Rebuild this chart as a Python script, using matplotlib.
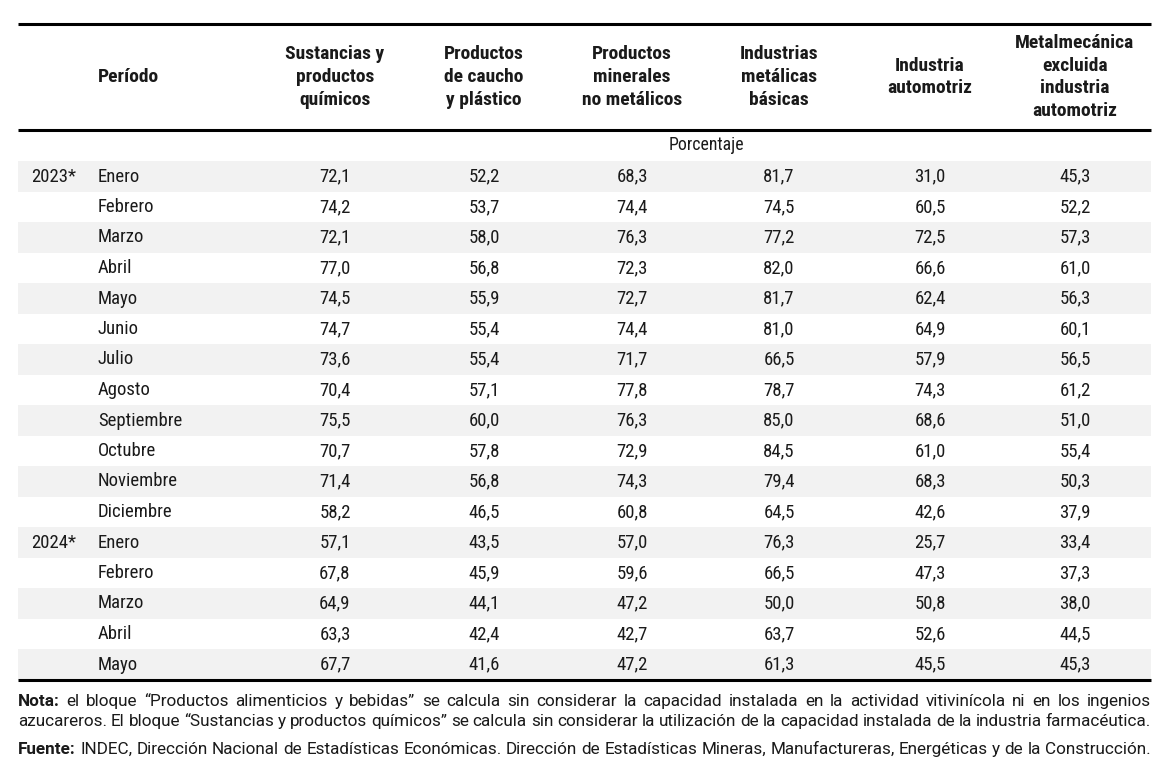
import matplotlib
matplotlib.use("Agg")
import matplotlib.pyplot as plt
from matplotlib.patches import Rectangle

plt.rcParams['font.family'] = ['Roboto Condensed', 'Liberation Sans Narrow', 'Roboto', 'DejaVu Sans']

# header texts of the table
col_headers = [
    "Sustancias y\nproductos\nquímicos",
    "Productos\nde caucho\ny plástico",
    "Productos\nminerales\nno metálicos",
    "Industrias\nmetálicas\nbásicas",
    "Industria\nautomotriz",
    "Metalmecánica\nexcluida\nindustria\nautomotriz",
]
years = ["2023*", "", "", "", "", "", "", "", "", "", "", "", "2024*", "", "", "", ""]
months = ["Enero", "Febrero", "Marzo", "Abril", "Mayo", "Junio", "Julio", "Agosto",
          "Septiembre", "Octubre", "Noviembre", "Diciembre",
          "Enero", "Febrero", "Marzo", "Abril", "Mayo"]

quimicos = [72.1, 74.2, 72.1, 77.0, 74.5, 74.7, 73.6, 70.4, 75.5, 70.7, 71.4, 58.2,
            57.1, 67.8, 64.9, 63.3, 67.7]
caucho = [52.2, 53.7, 58.0, 56.8, 55.9, 55.4, 55.4, 57.1, 60.0, 57.8, 56.8, 46.5,
          43.5, 45.9, 44.1, 42.4, 41.6]
minerales = [68.3, 74.4, 76.3, 72.3, 72.7, 74.4, 71.7, 77.8, 76.3, 72.9, 74.3, 60.8,
             57.0, 59.6, 47.2, 42.7, 47.2]
metalicas = [81.7, 74.5, 77.2, 82.0, 81.7, 81.0, 66.5, 78.7, 85.0, 84.5, 79.4, 64.5,
             76.3, 66.5, 50.0, 63.7, 61.3]
automotriz = [31.0, 60.5, 72.5, 66.6, 62.4, 64.9, 57.9, 74.3, 68.6, 61.0, 68.3, 42.6,
              25.7, 47.3, 50.8, 52.6, 45.5]
metalmecanica = [45.3, 52.2, 57.3, 61.0, 56.3, 60.1, 56.5, 61.2, 51.0, 55.4, 50.3, 37.9,
                 33.4, 37.3, 38.0, 44.5, 45.3]

series = [quimicos, caucho, minerales, metalicas, automotriz, metalmecanica]

nota_lines = [
    ("Nota:", "el bloque “Productos alimenticios y bebidas” se calcula sin considerar la capacidad instalada en la actividad vitivinícola ni en los ingenios"),
    ("", "azucareros. El bloque “Sustancias y productos químicos” se calcula sin considerar la utilización de la capacidad instalada de la industria farmacéutica."),
]
fuente = ("Fuente:", "INDEC, Dirección Nacional de Estadísticas Económicas. Dirección de Estadísticas Mineras, Manufactureras, Energéticas y de la Construcción.")

W, H = 1173, 762
fig = plt.figure(figsize=(W / 100, H / 100), dpi=100)
ax = fig.add_axes([0, 0, 1, 1])
ax.set_xlim(0, W)
ax.set_ylim(H, 0)
ax.axis("off")

left, right = 18, 1151
col_x = [335, 484, 632, 779, 930, 1075]
row0, row_h = 176.5, 30.5
fs = 13.5
txt = "#1a1a1a"

# rules
ax.plot([left, right], [24, 24], color="black", lw=2.2, solid_capstyle="butt")
ax.plot([left, right], [130, 130], color="black", lw=2.2, solid_capstyle="butt")

# header
ax.text(98, 77, "Período", fontsize=14, fontweight="bold", ha="left", va="center", color=txt)
for x, h in zip(col_x, col_headers):
    ax.text(x, 77, h, fontsize=14, fontweight="bold", ha="center", va="center",
            linespacing=1.33, color=txt)
ax.text(706, 145, "Porcentaje", fontsize=12.8, ha="center", va="center", color=txt)

# body
for i, (y_lab, m) in enumerate(zip(years, months)):
    y = row0 + i * row_h
    if i % 2 == 0:
        ax.add_patch(Rectangle((left, y - row_h / 2), right - left, row_h,
                               facecolor="#f2f2f2", edgecolor="none", zorder=0))
    if y_lab:
        ax.text(31, y, y_lab, fontsize=fs, ha="left", va="center", color=txt)
    ax.text(98, y, m, fontsize=fs, ha="left", va="center", color=txt)
    for x, s in zip(col_x, series):
        ax.text(x, y, f"{s[i]:.1f}".replace(".", ","), fontsize=fs, ha="center",
                va="center", color=txt)

bottom = row0 + (len(months) - 1) * row_h + row_h / 2
ax.plot([left, right], [bottom, bottom], color="black", lw=2.2, solid_capstyle="butt")

# footnotes (wider face, justified like the source)
renderer = fig.canvas.get_renderer()
fs_note = 12.3
note_font = ['Roboto', 'DejaVu Sans']


def word_width(s, bold=False):
    t = ax.text(0, 0, s, fontsize=fs_note, family=note_font,
                fontweight="bold" if bold else "normal")
    bb = t.get_window_extent(renderer)
    t.remove()
    return bb.width


def justified(y, head, body, justify=True):
    words = []
    if head:
        words.append((head, True))
    words += [(w, False) for w in body.split()]
    widths = [word_width(w, b) for w, b in words]
    space = word_width("a a") - word_width("aa")
    gap = (right - left - sum(widths)) / (len(words) - 1)
    if not justify or gap < 0.6 * space:
        gap = min(space, gap) if gap > 0 else space
    x = left
    for (w, b), wd in zip(words, widths):
        ax.text(x, y, w, fontsize=fs_note, family=note_font,
                fontweight="bold" if b else "normal",
                ha="left", va="baseline", color=txt)
        x += wd + gap


justified(706, *nota_lines[0])
justified(726, *nota_lines[1])
justified(754, *fuente, justify=False)

fig.savefig("out.png", dpi=100)
